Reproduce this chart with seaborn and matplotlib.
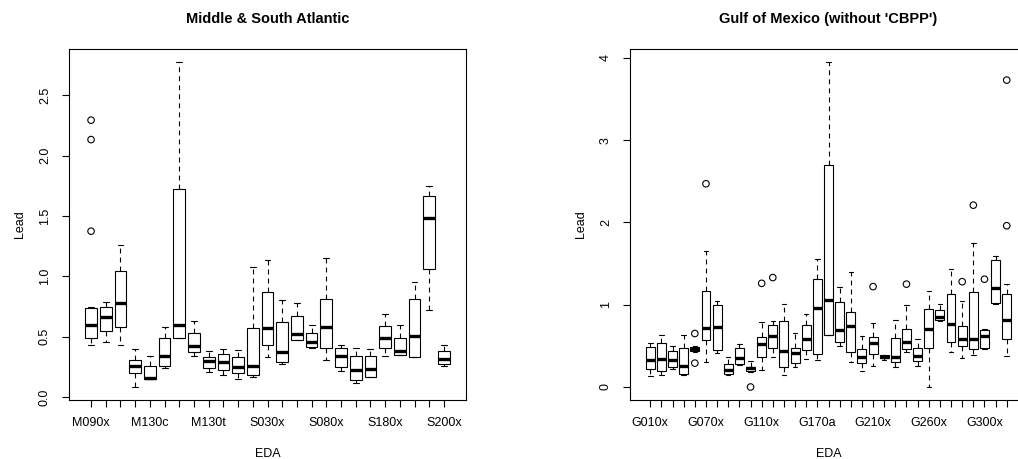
import numpy as np
import pandas as pd
import matplotlib
matplotlib.use("Agg")
import matplotlib.pyplot as plt
import seaborn as sns

# ---------------- data: Middle & South Atlantic ----------------
left_labels = ["M090x", "", "", "", "M130c", "", "", "", "M130t", "", "", "",
               "S030x", "", "", "", "S080x", "", "", "", "S180x", "", "", "", "S200x"]
left_whislo = [0.43, 0.46, 0.43, 0.083, 0.148, 0.24, 0.49, 0.337, 0.204, 0.18, 0.152, 0.17, 0.334,
               0.27, 0.475, 0.41, 0.304, 0.213, 0.113, 0.17, 0.34, 0.35, 0.33, 0.724, 0.26]
left_q1 = [0.486, 0.544, 0.577, 0.20, 0.15, 0.26, 0.49, 0.376, 0.238, 0.22, 0.196, 0.18, 0.434,
           0.287, 0.475, 0.417, 0.409, 0.246, 0.14, 0.17, 0.41, 0.35, 0.33, 1.058, 0.276]
left_med = [0.60, 0.666, 0.78, 0.26, 0.16, 0.34, 0.594, 0.42, 0.30, 0.287, 0.25, 0.257, 0.575,
            0.373, 0.525, 0.453, 0.583, 0.337, 0.221, 0.23, 0.489, 0.384, 0.505, 1.487, 0.315]
left_q3 = [0.735, 0.746, 1.047, 0.31, 0.257, 0.486, 1.72, 0.53, 0.334, 0.36, 0.33, 0.57, 0.873,
           0.62, 0.674, 0.533, 0.815, 0.409, 0.343, 0.34, 0.586, 0.489, 0.81, 1.662, 0.38]
left_whishi = [0.75, 0.79, 1.26, 0.40, 0.34, 0.58, 2.776, 0.627, 0.384, 0.40, 0.39, 1.08, 1.133,
               0.807, 0.78, 0.597, 1.152, 0.428, 0.41, 0.40, 0.685, 0.594, 0.95, 1.745, 0.434]
left_out_idx = [0, 0, 0]
left_out_val = [1.374, 2.133, 2.294]
left_yticks = [0.0, 0.5, 1.0, 1.5, 2.0, 2.5]
left_yticklabels = ["0.0", "0.5", "1.0", "1.5", "2.0", "2.5"]

# ---------------- data: Gulf of Mexico ----------------
right_labels = ["G010x", "", "", "", "", "G070x", "", "", "", "", "G110x", "", "", "", "",
                "G170a", "", "", "", "", "G210x", "", "", "", "", "G260x", "", "", "", "",
                "G300x", "", ""]
right_whislo = [0.13, 0.15, 0.22, 0.15, 0.43, 0.30, 0.41, 0.14, 0.27, 0.18, 0.21, 0.37, 0.15, 0.24,
                0.34, 0.33, 0.63, 0.50, 0.30, 0.20, 0.26, 0.33, 0.24, 0.43, 0.25, 0.0, 0.80, 0.42,
                0.35, 0.39, 0.46, 1.01, 0.38]
right_q1 = [0.22, 0.20, 0.24, 0.16, 0.435, 0.57, 0.45, 0.16, 0.275, 0.19, 0.37, 0.48, 0.24, 0.29,
            0.45, 0.40, 0.635, 0.545, 0.43, 0.29, 0.40, 0.35, 0.30, 0.46, 0.31, 0.48, 0.82, 0.55,
            0.50, 0.46, 0.48, 1.02, 0.585]
right_med = [0.33, 0.34, 0.33, 0.26, 0.46, 0.72, 0.73, 0.21, 0.35, 0.23, 0.52, 0.62, 0.44, 0.41,
             0.585, 0.96, 1.057, 0.69, 0.74, 0.36, 0.53, 0.37, 0.37, 0.545, 0.38, 0.70, 0.85, 0.77,
             0.585, 0.58, 0.62, 1.20, 0.81]
right_q3 = [0.49, 0.53, 0.44, 0.47, 0.49, 1.17, 1.0, 0.28, 0.47, 0.24, 0.61, 0.75, 0.80, 0.48,
            0.75, 1.31, 2.70, 1.03, 0.91, 0.46, 0.61, 0.39, 0.59, 0.71, 0.48, 0.95, 0.93, 1.13,
            0.74, 1.16, 0.69, 1.54, 1.13]
right_whishi = [0.53, 0.63, 0.50, 0.63, 0.50, 1.65, 1.04, 0.37, 0.52, 0.32, 0.79, 0.80, 1.01, 0.66,
                0.89, 1.56, 3.95, 1.22, 1.40, 0.62, 0.78, 0.39, 0.81, 1.0, 0.58, 1.17, 1.01, 1.43,
                1.045, 1.75, 0.70, 1.59, 1.25]
right_out_idx = [4, 4, 5, 9, 10, 11, 20, 23, 28, 29, 30, 32, 32]
right_out_val = [0.65, 0.29, 2.47, 0.0, 1.26, 1.33, 1.22, 1.25, 1.28, 2.21, 1.31, 1.96, 3.73]
right_yticks = [0, 1, 2, 3, 4]
right_yticklabels = ["0", "1", "2", "3", "4"]

# ---------------- style ----------------
sns.set_style("white")
plt.rcParams["font.family"] = ["Liberation Sans", "DejaVu Sans"]
plt.rcParams["lines.scale_dashes"] = False
plt.rcParams["text.color"] = "black"
plt.rcParams["axes.labelcolor"] = "black"
plt.rcParams["xtick.color"] = "black"
plt.rcParams["ytick.color"] = "black"

W, H = 1018, 459
fig = plt.figure(figsize=(W / 100, H / 100), dpi=100)
ax_l = fig.add_axes([69 / W, 1 - 400 / H, 397 / W, 351 / H])
ax_r = fig.add_axes([630 / W, 1 - 400 / H, 397 / W, 351 / H])

LW = 0.8


def draw(ax, labels, lo, q1, med, q3, hi, out_idx, out_val, title, yticks, yticklabels):
    n = len(labels)
    rows = []
    for i in range(n):
        for v in (lo[i], q1[i], med[i], q3[i], hi[i]):
            rows.append((i, v))
    df = pd.DataFrame(rows, columns=["EDA", "Lead"])
    sns.boxplot(data=df, x="EDA", y="Lead", order=list(range(n)), whis=np.inf, width=0.8,
                color="white", saturation=1, linecolor="black", linewidth=LW,
                showfliers=False,
                medianprops=dict(linewidth=2.4, color="black", solid_capstyle="butt"),
                whiskerprops=dict(linestyle=(0, (3.5, 3)), linewidth=LW, color="black"),
                capprops=dict(linewidth=LW, color="black"),
                boxprops=dict(linewidth=LW, edgecolor="black", facecolor="white"),
                ax=ax)
    out_df = pd.DataFrame({"EDA": out_idx, "Lead": out_val})
    sns.scatterplot(data=out_df, x="EDA", y="Lead", ax=ax, marker="o", s=22,
                    facecolors="none", edgecolor="black", linewidth=LW, legend=False, zorder=5)

    allv = list(lo) + list(hi) + list(out_val)
    vmin, vmax = min(allv), max(allv)
    span = vmax - vmin
    ax.set_ylim(vmin - 0.04 * span, vmax + 0.04 * span)
    ax.set_xlim(-0.5 - 0.04 * n, n - 0.5 + 0.04 * n)

    ax.set_xticks(range(n))
    ax.set_xticklabels(labels)
    ax.set_yticks(yticks)
    ax.set_yticklabels(yticklabels, rotation=90, va="center")
    ax.tick_params(axis="both", direction="out", length=5, width=LW, color="black",
                   labelsize=9, labelcolor="black", bottom=True, left=True)
    ax.tick_params(axis="x", pad=7)
    ax.tick_params(axis="y", pad=8)
    for s in ax.spines.values():
        s.set_visible(True)
        s.set_color("black")
        s.set_linewidth(LW)
    ax.set_xlabel("EDA", fontsize=9, labelpad=14, color="black")
    ax.set_ylabel("Lead", fontsize=9, labelpad=9, color="black")
    ax.set_title(title, fontsize=10.5, fontweight="bold", pad=18.5, color="black")
    ax.grid(False)


draw(ax_l, left_labels, left_whislo, left_q1, left_med, left_q3, left_whishi,
     left_out_idx, left_out_val, "Middle & South Atlantic", left_yticks, left_yticklabels)
draw(ax_r, right_labels, right_whislo, right_q1, right_med, right_q3, right_whishi,
     right_out_idx, right_out_val, "Gulf of Mexico (without 'CBPP')", right_yticks,
     right_yticklabels)

fig.savefig("out.png", dpi=100)
